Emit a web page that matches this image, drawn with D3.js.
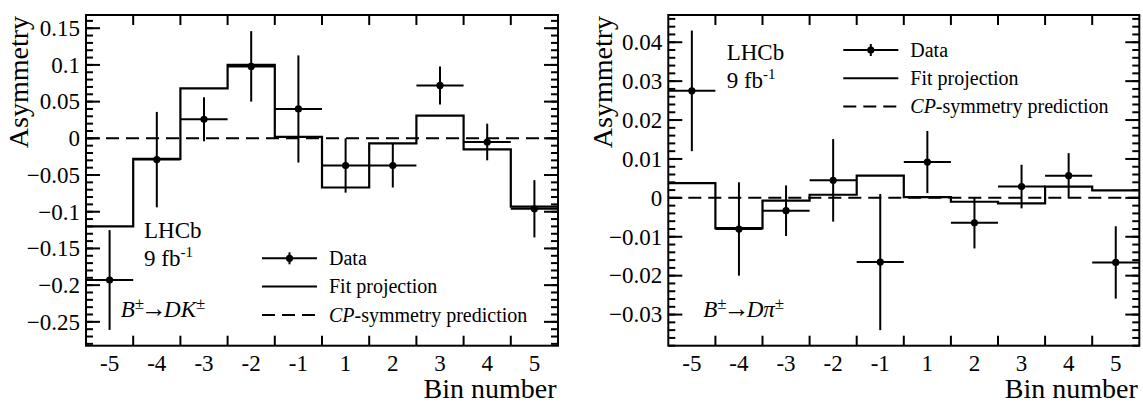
<!DOCTYPE html>
<html>
<head>
<meta charset="utf-8">
<script src="https://cdn.jsdelivr.net/npm/d3@7"></script>
<style>
  body { margin: 0; background: #fff; }
  svg text { font-family: "Liberation Serif", "Times New Roman", serif; fill: #000; }
</style>
</head>
<body>
<svg id="chart" width="1143" height="403"></svg>
<script>
// Bin labels (shared by both panels)
var bins = ["-5", "-4", "-3", "-2", "-1", "1", "2", "3", "4", "5"];

// B -> DK panel
var dkValues = [-0.193, -0.029, 0.026, 0.098, 0.040, -0.037, -0.037, 0.072, -0.005, -0.096];
var dkErrors = [0.068, 0.065, 0.030, 0.048, 0.073, 0.037, 0.030, 0.026, 0.025, 0.039];
var dkFit = [-0.120, -0.028, 0.068, 0.100, 0.002, -0.067, -0.007, 0.031, -0.015, -0.093];
var dkTicks = [-0.25, -0.2, -0.15, -0.1, -0.05, 0, 0.05, 0.1, 0.15];
var dkTickLabels = ["\u22120.25", "\u22120.2", "\u22120.15", "\u22120.1", "\u22120.05", "0", "0.05", "0.1", "0.15"];

// B -> Dpi panel
var dpiValues = [0.0275, -0.0080, -0.0033, 0.0045, -0.0165, 0.0092, -0.0064, 0.0029, 0.0057, -0.0166];
var dpiErrors = [0.0155, 0.0120, 0.0065, 0.0106, 0.0175, 0.0080, 0.0066, 0.0056, 0.0058, 0.0093];
var dpiFit = [0.0038, -0.0078, -0.0007, 0.0008, 0.0057, 0.0002, -0.0010, -0.0014, 0.0029, 0.0019];
var dpiTicks = [-0.03, -0.02, -0.01, 0, 0.01, 0.02, 0.03, 0.04];
var dpiTickLabels = ["\u22120.03", "\u22120.02", "\u22120.01", "0", "0.01", "0.02", "0.03", "0.04"];

var legendLabels = ["Data", "Fit projection", "CP-symmetry prediction"];

var svg = d3.select("#chart");
var dash = "13,7";

function drawPanel(opts) {
  var g = svg.append("g");
  var top = 15, bottom = 345.7;

  var x = d3.scaleBand().domain(bins).range([opts.left, opts.right]).padding(0);
  var y = d3.scaleLinear().domain(opts.domain).range([bottom, top]);

  // minor ticks: 5 divisions between majors
  var step = opts.ticks[1] - opts.ticks[0];
  var minor = [];
  var start = opts.ticks[0] - step;
  for (var i = 0; i <= (opts.ticks.length + 1) * 5; i++) {
    var v = +(start + i * step / 5).toFixed(6);
    if (v >= opts.domain[0] && v <= opts.domain[1]) minor.push(v);
  }

  // y ticks, both sides
  [opts.left, opts.right].forEach(function(x0, side) {
    var dir = side === 0 ? 1 : -1;
    g.selectAll(null).data(minor).enter().append("line")
      .attr("x1", x0).attr("x2", x0 + dir * 7)
      .attr("y1", function(d) { return y(d); }).attr("y2", function(d) { return y(d); })
      .attr("stroke", "#000").attr("stroke-width", 2);
    g.selectAll(null).data(opts.ticks).enter().append("line")
      .attr("x1", x0).attr("x2", x0 + dir * 14)
      .attr("y1", function(d) { return y(d); }).attr("y2", function(d) { return y(d); })
      .attr("stroke", "#000").attr("stroke-width", 2);
  });

  // x ticks at bin edges, top and bottom
  var edges = bins.slice(1).map(function(b) { return x(b); });
  g.selectAll(null).data(edges).enter().append("line")
    .attr("x1", function(d) { return d; }).attr("x2", function(d) { return d; })
    .attr("y1", bottom).attr("y2", bottom - 10)
    .attr("stroke", "#000").attr("stroke-width", 2);
  g.selectAll(null).data(edges).enter().append("line")
    .attr("x1", function(d) { return d; }).attr("x2", function(d) { return d; })
    .attr("y1", top).attr("y2", top + 10)
    .attr("stroke", "#000").attr("stroke-width", 2);

  // tick labels
  g.selectAll(null).data(opts.ticks).enter().append("text")
    .attr("x", opts.left - 6).attr("y", function(d) { return y(d); })
    .attr("dy", "0.34em").attr("text-anchor", "end")
    .style("font-size", "23px")
    .text(function(d, i) { return opts.tickLabels[i]; });
  g.selectAll(null).data(bins).enter().append("text")
    .attr("x", function(d) { return x(d) + x.bandwidth() / 2; }).attr("y", 371)
    .attr("text-anchor", "middle")
    .style("font-size", "23px")
    .text(function(d) { return d; });

  // axis titles
  g.append("text")
    .attr("transform", "translate(" + opts.titleX + "," + (top + 1) + ") rotate(-90)")
    .attr("text-anchor", "end")
    .style("font-size", "28px")
    .text("Asymmetry");
  g.append("text")
    .attr("x", opts.right - 1.5).attr("y", 398)
    .attr("text-anchor", "end")
    .style("font-size", "28px")
    .text("Bin number");

  // CP-symmetry prediction
  g.append("line")
    .attr("x1", opts.left).attr("x2", opts.right)
    .attr("y1", y(0)).attr("y2", y(0))
    .attr("stroke", "#000").attr("stroke-width", 2).attr("stroke-dasharray", dash);

  // fit projection as a step histogram
  var pts = [];
  opts.fit.forEach(function(v, i) {
    pts.push([x(bins[i]), y(v)]);
    pts.push([x(bins[i]) + x.bandwidth(), y(v)]);
  });
  g.append("path")
    .attr("d", d3.line()(pts))
    .attr("fill", "none").attr("stroke", "#000").attr("stroke-width", 2.2);

  // data points with error bars
  var pt = g.selectAll(null).data(opts.values).enter().append("g");
  pt.append("line")
    .attr("x1", function(d, i) { return x(bins[i]); })
    .attr("x2", function(d, i) { return x(bins[i]) + x.bandwidth(); })
    .attr("y1", function(d) { return y(d); }).attr("y2", function(d) { return y(d); })
    .attr("stroke", "#000").attr("stroke-width", 2);
  pt.append("line")
    .attr("x1", function(d, i) { return x(bins[i]) + x.bandwidth() / 2; })
    .attr("x2", function(d, i) { return x(bins[i]) + x.bandwidth() / 2; })
    .attr("y1", function(d, i) { return y(d + opts.errors[i]); })
    .attr("y2", function(d, i) { return y(d - opts.errors[i]); })
    .attr("stroke", "#000").attr("stroke-width", 2);
  pt.append("circle")
    .attr("cx", function(d, i) { return x(bins[i]) + x.bandwidth() / 2; })
    .attr("cy", function(d) { return y(d); })
    .attr("r", 3.6).attr("fill", "#000");

  // frame
  g.append("rect")
    .attr("x", opts.left).attr("y", top)
    .attr("width", opts.right - opts.left).attr("height", bottom - top)
    .attr("fill", "none").attr("stroke", "#000").attr("stroke-width", 2);

  // LHCb label
  g.append("text").attr("x", opts.lhcb[0]).attr("y", opts.lhcb[1])
    .style("font-size", "23px").text("LHCb");
  var lumi = g.append("text").attr("x", opts.lhcb[0]).attr("y", opts.lhcb[1] + 28)
    .style("font-size", "23px");
  lumi.append("tspan").text("9 fb");
  lumi.append("tspan").attr("dy", -9).style("font-size", "15px").text("-1");

  // decay label
  var dec = g.append("text").attr("x", opts.decay[0]).attr("y", opts.decay[1])
    .style("font-size", "23px");
  dec.append("tspan").style("font-style", "italic").text("B");
  dec.append("tspan").attr("dy", -8).style("font-size", "17px").text("\u00b1");
  dec.append("tspan").attr("dy", 8).attr("dx", -3).style("font-size", "26px").text("\u2192");
  dec.append("tspan").attr("dx", -3).style("font-style", "italic").text(opts.decayText);
  dec.append("tspan").attr("dy", -8).style("font-size", "17px").text("\u00b1");

  // legend
  var lx0 = opts.legend[0], lx1 = opts.legend[0] + 55, ly = opts.legend[1];
  var rows = legendLabels.map(function(l, i) { return ly + i * 28.3; });
  g.append("line").attr("x1", lx0).attr("x2", lx1).attr("y1", rows[0]).attr("y2", rows[0])
    .attr("stroke", "#000").attr("stroke-width", 2);
  g.append("line").attr("x1", (lx0 + lx1) / 2).attr("x2", (lx0 + lx1) / 2)
    .attr("y1", rows[0] - 6).attr("y2", rows[0] + 6)
    .attr("stroke", "#000").attr("stroke-width", 2);
  g.append("circle").attr("cx", (lx0 + lx1) / 2).attr("cy", rows[0]).attr("r", 3.6).attr("fill", "#000");
  g.append("line").attr("x1", lx0).attr("x2", lx1).attr("y1", rows[1]).attr("y2", rows[1])
    .attr("stroke", "#000").attr("stroke-width", 2);
  g.append("line").attr("x1", lx0).attr("x2", lx1).attr("y1", rows[2]).attr("y2", rows[2])
    .attr("stroke", "#000").attr("stroke-width", 2).attr("stroke-dasharray", dash);

  legendLabels.forEach(function(l, i) {
    var t = g.append("text").attr("x", lx1 + 12).attr("y", rows[i]).attr("dy", "0.33em")
      .style("font-size", "20px");
    if (i === 2) {
      t.append("tspan").style("font-style", "italic").text("CP");
      t.append("tspan").text("-symmetry prediction");
    } else {
      t.text(l);
    }
  });
}

drawPanel({
  left: 86, right: 558,
  domain: [-0.2825, 0.168],
  values: dkValues, errors: dkErrors, fit: dkFit,
  ticks: dkTicks, tickLabels: dkTickLabels,
  titleX: 28.3,
  lhcb: [144, 237.7],
  decay: [120.7, 317], decayText: "DK",
  legend: [262, 258.3]
});

drawPanel({
  left: 668.3, right: 1139.3,
  domain: [-0.038, 0.047],
  values: dpiValues, errors: dpiErrors, fit: dpiFit,
  ticks: dpiTicks, tickLabels: dpiTickLabels,
  titleX: 611.5,
  lhcb: [726.7, 60],
  decay: [703.3, 317], decayText: "D\u03c0",
  legend: [843.3, 50]
});
</script>
</body>
</html>
